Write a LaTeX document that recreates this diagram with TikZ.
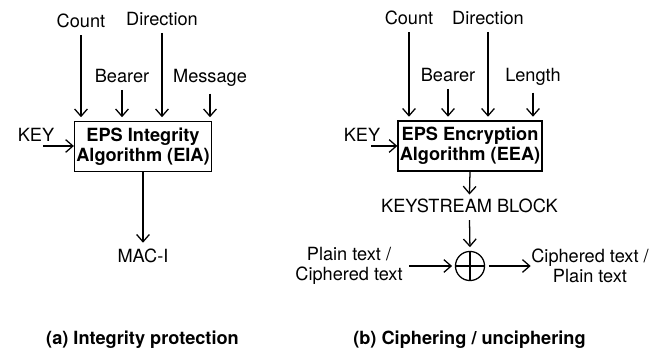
\documentclass[tikz,border=0pt]{standalone}
\usepackage{fontspec}
\setmainfont{TeX Gyre Heros}
\usetikzlibrary{arrows.meta}

\begin{document}
\begin{tikzpicture}[x=0.55pt,y=-0.55pt,>={Straight Barb[length=4pt,width=7pt]},line width=0.7pt,
		every node/.style={font=\fontsize{10}{11}\selectfont},
		lbl/.style={anchor=base},
		algbox/.style={draw,align=center,font=\fontsize{10}{11}\selectfont\bfseries,minimum width=73.7pt,minimum height=27.5pt,inner sep=1pt},
		capt/.style={anchor=base,font=\fontsize{10}{11}\selectfont\bfseries}]
		\useasboundingbox (0,0) rectangle (662,349);

		% (a) integrity
		\node [algbox] (box1) at (143,146.5) {EPS Integrity\\Algorithm (EIA)};
		\node [lbl] (count1) at (81,28) {Count};
		\node [lbl] (dir1) at (162,26) {Direction};
		\node [lbl] (bearer1) at (122,83) {Bearer};
		\node [lbl] (msg1) at (210,83) {Message};
		\node [lbl] (key1) at (36,142) {KEY};
		\node [lbl] (mac) at (143,263) {MAC-I};
		\coordinate (k1) at (43,146);

		\draw [->,shorten >=2pt] (count1.south) -- (count1.south |- box1.north);
		\draw [->,shorten >=2pt] (dir1.south) -- (dir1.south |- box1.north);
		\draw [->,shorten >=2pt] (bearer1.south) -- (bearer1.south |- box1.north);
		\draw [->,shorten >=2pt] (msg1.south) -- (msg1.south |- box1.north);
		\draw [->] (k1) -- (k1 -| box1.west);
		\draw [->] (box1.south) -- (mac.north);

		% (b) ciphering
		\node [algbox] (box2) at (470,146) {EPS Encryption\\Algorithm (EEA)};
		\node [lbl] (count2) at (409,25) {Count};
		\node [lbl] (dir2) at (488,25) {Direction};
		\node [lbl] (bearer2) at (448,82) {Bearer};
		\node [lbl] (len2) at (533,82) {Length};
		\node [lbl] (key2) at (362,142) {KEY};
		\node [lbl] (ks) at (469.5,213) {KEYSTREAM BLOCK};
		\node [draw,circle,minimum size=16pt,inner sep=0pt] (xor) at (470,266) {};
		\node [align=center] (plain) at (349,266) {Plain text /\\Ciphered text};
		\node [align=center,inner xsep=0pt] (ciph) at (590,266) {Ciphered text /\\Plain text};
		\coordinate (k2) at (371,146);

		\draw [->,shorten >=2pt] (count2.south) -- (count2.south |- box2.north);
		\draw [->,shorten >=2pt] (dir2.south) -- (dir2.south |- box2.north);
		\draw [->,shorten >=2pt] (bearer2.south) -- (bearer2.south |- box2.north);
		\draw [->,shorten >=2pt] (len2.south) -- (len2.south |- box2.north);
		\draw [->] (k2) -- (k2 -| box2.west);
		\draw [->,shorten >=-1pt] (box2.south) -- (ks.north);
		\draw [->,shorten >=2pt] (ks.south) -- (xor.north);
		\draw (xor.north) -- (xor.south) (xor.west) -- (xor.east);
		\draw [->,shorten >=1.5pt] (plain.east) -- (xor.west);
		\draw [->,shorten <=2pt] (xor.east) -- (ciph.west);

		\node [capt] (capa) at (142.5,345) {(a) Integrity protection};
		\node [capt] (capb) at (469.5,345) {(b) Ciphering / unciphering};
	\end{tikzpicture}
\end{document}
